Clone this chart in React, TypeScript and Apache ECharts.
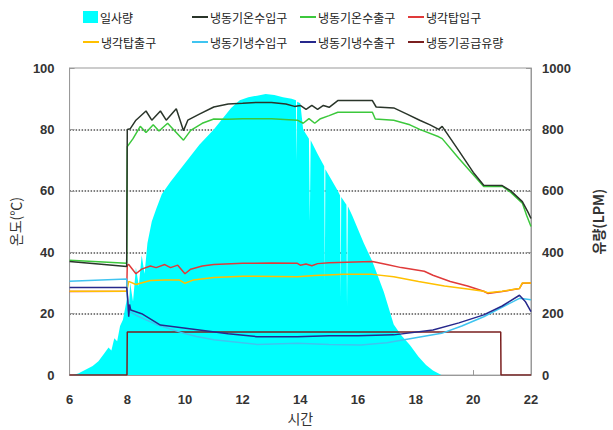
import React, { useEffect, useRef } from "react";
import * as echarts from "echarts";

// Time ticks
const xTicks = [6, 8, 10, 12, 14, 16, 18, 20, 22];

const seriesNames = [
  "일사량",
  "냉동기온수입구",
  "냉동기온수출구",
  "냉각탑입구",
  "냉각탑출구",
  "냉동기냉수입구",
  "냉동기냉수출구",
  "냉동기공급유량",
];

// 일사량 (right axis)
const solar: number[][] = [
  [6.1, 0], [6.3, 5], [6.5, 15], [6.8, 30], [7.0, 45], [7.2, 70], [7.35, 90], [7.45, 80],
  [7.55, 120], [7.65, 110], [7.75, 160], [7.85, 180], [7.95, 230], [8.0, 250],
  [8.05, 200], [8.1, 300], [8.2, 240], [8.3, 350], [8.4, 290], [8.5, 390], [8.6, 330],
  [8.7, 430], [8.85, 500], [9.0, 540], [9.2, 590], [9.5, 630], [10, 690], [10.5, 750],
  [11, 800], [11.3, 835], [11.6, 870], [11.9, 895], [12.2, 905], [12.5, 910], [12.8, 915],
  [13.1, 912], [13.4, 905], [13.7, 900], [13.85, 895], [13.87, 700], [13.89, 890],
  [14.0, 885], [14.1, 800], [14.3, 770], [14.33, 500], [14.36, 765], [14.6, 720],
  [14.83, 680], [14.85, 300], [14.87, 670], [15.3, 600], [15.38, 585], [15.4, 250],
  [15.42, 580], [15.6, 555], [15.62, 220], [15.65, 550], [15.8, 520], [16.2, 430],
  [16.5, 370], [16.9, 270], [17.24, 165], [17.5, 130], [17.8, 98], [18.1, 60],
  [18.36, 33], [18.6, 15], [18.9, 0],
];

// 냉동기온수입구 (°C)
const hotIn: number[][] = [
  [6, 37], [7, 36.2], [7.98, 35.4], [8.0, 80], [8.1, 80.2], [8.3, 83], [8.65, 86],
  [8.85, 83], [9.15, 86], [9.35, 83], [9.7, 86.7], [9.95, 79.6], [10.1, 83], [10.5, 85],
  [11.0, 87.3], [11.5, 88.3], [12, 88.5], [12.5, 88.8], [13, 88.8], [13.5, 88.3],
  [13.8, 87.5], [14, 87.8], [14.2, 86.5], [14.4, 87.8], [14.6, 86.5], [14.8, 87.8],
  [15.0, 87.2], [15.3, 89.4], [16.5, 89.4], [16.63, 87.3], [17.24, 87], [17.7, 85],
  [18.14, 83], [18.5, 81.5], [18.8, 80], [18.92, 81], [19.5, 73], [20.0, 66],
  [20.36, 61.8], [21.0, 61.7], [21.3, 60], [21.7, 56.5], [21.9, 53], [22, 51],
];

// 냉동기온수출구 (°C)
const hotOut: number[][] = [
  [6, 37.4], [7, 36.9], [7.98, 36.4], [8.0, 74.4], [8.2, 77], [8.45, 81], [8.65, 79],
  [8.9, 81.5], [9.1, 79.5], [9.4, 82], [9.6, 80], [9.95, 76.5], [10.2, 79.7], [10.6, 82],
  [11.0, 83.4], [11.5, 83.3], [12, 83.5], [13, 83.5], [13.9, 83], [14.1, 82],
  [14.3, 83.5], [14.5, 82], [14.7, 83.5], [15.0, 84.5], [15.3, 85.6], [16.5, 85.6],
  [16.6, 83.4], [17.24, 83], [17.8, 81.5], [18.14, 80], [18.8, 77.6], [18.92, 77],
  [19.5, 70.5], [20.36, 61.4], [21.0, 61.5], [21.3, 59.5], [21.7, 56], [21.85, 52],
  [22, 48.4],
];

// 냉각탑입구 (°C)
const towerIn: number[][] = [
  [6, 27.2], [7.98, 27.3], [8.0, 35.8], [8.05, 36], [8.3, 33], [8.5, 34.5], [8.8, 35.5],
  [9.0, 35], [9.3, 36], [9.5, 35], [9.75, 35.8], [10.0, 33], [10.2, 34.5], [10.6, 35.5],
  [11, 36], [12, 36.4], [13, 36.5], [13.9, 36.4], [14.0, 35.8], [14.2, 36.2],
  [14.4, 35.6], [14.6, 36.3], [15, 36.6], [16.5, 37], [17, 36], [17.5, 35],
  [18.3, 33.8], [18.6, 32.5], [19.2, 30.5], [19.8, 29], [20.36, 27.3], [20.5, 26.6],
  [21, 27.2], [21.6, 28.2], [21.7, 29.9], [22, 30],
];

// 냉각탑출구 (°C)
const towerOut: number[][] = [
  [6, 27.3], [7.98, 27.3], [8.05, 30.5], [8.3, 29.5], [8.8, 30.8], [9.3, 31], [9.8, 31],
  [10.0, 29.9], [10.3, 31], [11, 31.8], [12, 32.2], [13.9, 32], [14.5, 32.4],
  [15.5, 32.8], [16.5, 32.8], [17.24, 32], [18.1, 30.5], [19, 29], [19.8, 28],
  [20.36, 27.3], [20.5, 26.8], [21, 27.3], [21.6, 28.2], [21.7, 30], [22, 30],
];

// 냉동기냉수입구 (°C)
const chillIn: number[][] = [
  [6, 30.6], [7.98, 31.3], [8.02, 21], [8.3, 19.5], [9, 16.5], [10.0, 13.5],
  [10.4, 12.6], [11, 11.5], [12.5, 10], [13.9, 10.4], [15, 10], [16.1, 9.8],
  [17, 10.5], [17.6, 11.5], [18.9, 13.6], [19.6, 16], [20.36, 19], [21.6, 25],
  [22, 24.5],
];

// 냉동기냉수출구 (°C)
const chillOut: number[][] = [
  [6, 28.5], [7.98, 28.5], [8.02, 24.5], [8.05, 19], [8.08, 23], [8.12, 21.2],
  [8.5, 20], [9.15, 16.3], [10.5, 14.7], [11.5, 13.5], [12.5, 12.5], [13.9, 12.5],
  [15, 12.8], [16, 12.8], [17.24, 13.1], [18.6, 14.7], [19.5, 17], [20.36, 19.6],
  [21.0, 22.5], [21.6, 26], [21.8, 24], [22, 20.7],
];

// 냉동기공급유량 (LPM, right axis)
const flow: number[][] = [
  [6, 0], [7.99, 0], [8.0, 140], [20.95, 140], [20.96, 0], [22, 0],
];

const colors = {
  solar: "#00ffff",
  hotIn: "#2a352a",
  hotOut: "#3cc83c",
  towerIn: "#e03a3a",
  towerOut: "#ffc000",
  chillIn: "#3fc4f0",
  chillOut: "#26288c",
  flow: "#7a1f1f",
};

const legendPos: [number, number][] = [
  [83, 11], [192, 11], [300, 11], [408, 11],
  [83, 36], [192, 36], [300, 36], [408, 36],
];

const FONT = "Arial, 'Liberation Sans', sans-serif";
const KFONT = "'Noto Sans CJK KR', sans-serif";

export default function App() {
  const ref = useRef<HTMLDivElement>(null);
  useEffect(() => {
    if (!ref.current) return;
    const chart = echarts.init(ref.current, undefined, { renderer: "svg" });
    const lineSeries = (name: string, data: number[][], color: string, yAxisIndex = 0) => ({
      name,
      type: "line",
      data,
      yAxisIndex,
      symbol: "none",
      showSymbol: false,
      lineStyle: { color, width: 1.5 },
      itemStyle: { color },
    });
    const legends = seriesNames.map((n, i) => ({
      data: [{ name: n, icon: "rect" }],
      left: legendPos[i][0],
      top: legendPos[i][1],
      padding: 0,
      itemWidth: i === 0 ? 15 : 16,
      itemHeight: i === 0 ? 12 : 2,
      selectedMode: false,
      textStyle: { fontSize: 12, color: "#222", fontFamily: KFONT, padding: [0, 0, 0, -3] },
    }));
    chart.setOption({
      animation: false,
      backgroundColor: "#fff",
      legend: legends,
      grid: {
        left: 65,
        right: 71,
        top: 68,
        bottom: 53,
        show: true,
        borderColor: "#999",
        borderWidth: 1,
        backgroundColor: "transparent",
      },
      xAxis: {
        type: "value",
        min: xTicks[0],
        max: xTicks[xTicks.length - 1],
        interval: 2,
        name: "시간",
        nameLocation: "middle",
        nameGap: 31,
        nameTextStyle: { fontSize: 14, color: "#333", fontFamily: KFONT },
        axisLine: { show: true, lineStyle: { color: "#999" } },
        axisTick: { show: true, inside: true, length: 5, lineStyle: { color: "#999" } },
        axisLabel: { fontSize: 13, fontWeight: "bold", color: "#333", fontFamily: FONT, margin: 18 },
        splitLine: { show: false },
      },
      yAxis: [
        {
          type: "value",
          min: 0,
          max: 100,
          interval: 20,
          name: "온도(℃)",
          nameLocation: "middle",
          nameGap: 43,
          nameTextStyle: { fontSize: 14, color: "#333", fontFamily: KFONT },
          axisLine: { show: true, lineStyle: { color: "#999" } },
          axisTick: { show: true, inside: true, length: 5, lineStyle: { color: "#999" } },
          axisLabel: { fontSize: 13, fontWeight: "bold", color: "#333", fontFamily: FONT, margin: 15 },
          splitLine: {
            show: true,
            showMinLine: false,
            showMaxLine: false,
            lineStyle: { color: "#555", type: "dotted", width: 1.5 },
          },
        },
        {
          type: "value",
          min: 0,
          max: 1000,
          interval: 200,
          position: "right",
          name: "유량(LPM)",
          nameLocation: "middle",
          nameGap: 60,
          nameTextStyle: { fontSize: 14, fontWeight: "bold", color: "#333", fontFamily: KFONT },
          axisLine: { show: true, lineStyle: { color: "#999" } },
          axisTick: { show: true, inside: true, length: 5, lineStyle: { color: "#999" } },
          axisLabel: {
            fontSize: 13,
            fontWeight: "bold",
            color: "#333",
            fontFamily: FONT,
            margin: 11,
            formatter: (v: number) => String(v),
          },
          splitLine: { show: false },
        },
      ],
      series: [
        {
          name: seriesNames[0],
          type: "line",
          data: solar,
          yAxisIndex: 1,
          symbol: "none",
          showSymbol: false,
          lineStyle: { width: 0, color: colors.solar },
          itemStyle: { color: colors.solar },
          areaStyle: { color: colors.solar, opacity: 1 },
        },
        lineSeries(seriesNames[7], flow, colors.flow, 1),
        lineSeries(seriesNames[3], towerIn, colors.towerIn),
        lineSeries(seriesNames[4], towerOut, colors.towerOut),
        lineSeries(seriesNames[5], chillIn, colors.chillIn),
        lineSeries(seriesNames[6], chillOut, colors.chillOut),
        lineSeries(seriesNames[2], hotOut, colors.hotOut),
        lineSeries(seriesNames[1], hotIn, colors.hotIn),
      ],
    });
    return () => chart.dispose();
  }, []);
  return (
    <div
      ref={ref}
      style={{ position: "absolute", left: 0, top: 0, width: 613, height: 430 }}
    />
  );
}
